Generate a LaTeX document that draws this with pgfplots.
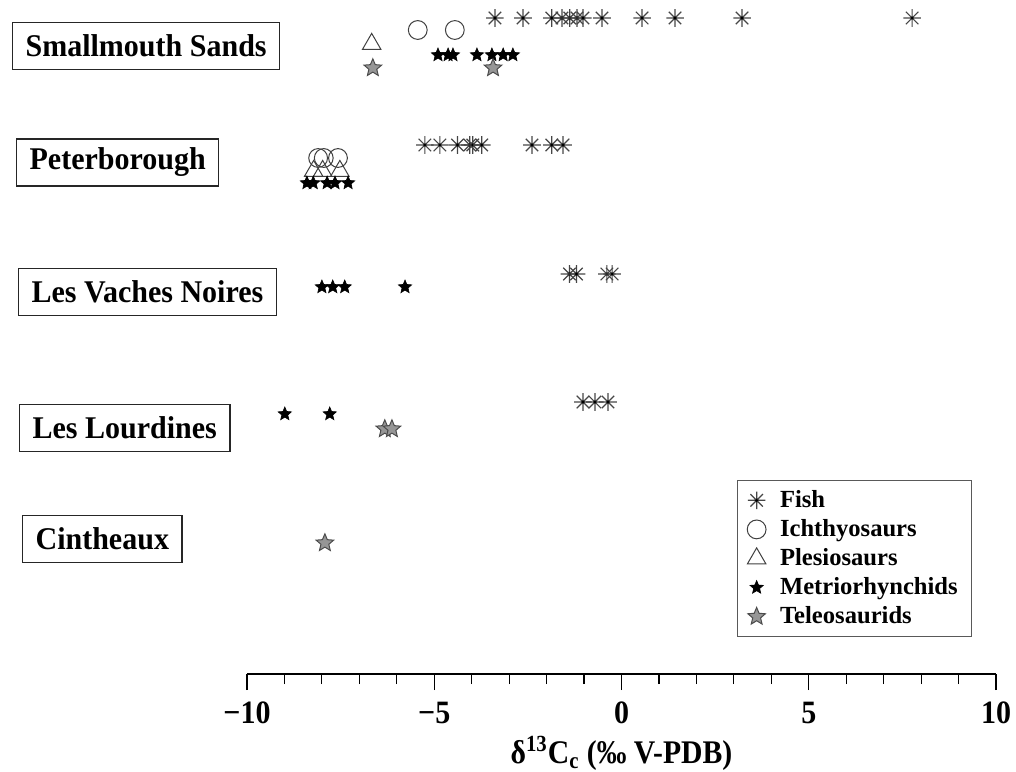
\documentclass[border=0pt]{standalone}
\usepackage{fontspec}
\setmainfont{Liberation Serif}
\newfontfamily\condA[FakeStretch=0.92]{Liberation Serif}
\newfontfamily\condB[FakeStretch=0.95]{Liberation Serif}
\newfontfamily\condC[FakeStretch=0.90]{Liberation Serif}
\usepackage{pgfplots}
\pgfplotsset{compat=1.18}
\pgfdeclareplotmark{ast8}{%
  \pgfpathmoveto{\pgfqpoint{-\pgfplotmarksize}{0pt}}%
  \pgfpathlineto{\pgfqpoint{\pgfplotmarksize}{0pt}}%
  \pgfpathmoveto{\pgfqpoint{0pt}{-\pgfplotmarksize}}%
  \pgfpathlineto{\pgfqpoint{0pt}{\pgfplotmarksize}}%
  \pgfpathmoveto{\pgfqpoint{-0.7071\pgfplotmarksize}{-0.7071\pgfplotmarksize}}%
  \pgfpathlineto{\pgfqpoint{0.7071\pgfplotmarksize}{0.7071\pgfplotmarksize}}%
  \pgfpathmoveto{\pgfqpoint{-0.7071\pgfplotmarksize}{0.7071\pgfplotmarksize}}%
  \pgfpathlineto{\pgfqpoint{0.7071\pgfplotmarksize}{-0.7071\pgfplotmarksize}}%
  \pgfusepathqstroke
  \pgfsetfillcolor{black}%
  \pgfpathcircle{\pgfpointorigin}{0.8pt}%
  \pgfusepathqfill
}
\pgfdeclareplotmark{star5}{%
  \pgfpathmoveto{\pgfpointpolar{90}{\pgfplotmarksize}}%
  \pgfpathlineto{\pgfpointpolar{126}{0.45\pgfplotmarksize}}%
  \pgfpathlineto{\pgfpointpolar{162}{\pgfplotmarksize}}%
  \pgfpathlineto{\pgfpointpolar{198}{0.45\pgfplotmarksize}}%
  \pgfpathlineto{\pgfpointpolar{234}{\pgfplotmarksize}}%
  \pgfpathlineto{\pgfpointpolar{270}{0.45\pgfplotmarksize}}%
  \pgfpathlineto{\pgfpointpolar{306}{\pgfplotmarksize}}%
  \pgfpathlineto{\pgfpointpolar{342}{0.45\pgfplotmarksize}}%
  \pgfpathlineto{\pgfpointpolar{18}{\pgfplotmarksize}}%
  \pgfpathlineto{\pgfpointpolar{54}{0.45\pgfplotmarksize}}%
  \pgfpathclose
  \pgfusepathqfillstroke
}
\definecolor{teleo}{RGB}{150,150,150}
\definecolor{fishgray}{RGB}{70,70,70}
\begin{document}
\begin{tikzpicture}
\begin{axis}[
  x=18.725pt, y=0.5pt,
  xmin=-10, xmax=10, ymin=-674, ymax=0,
  clip=false,
  axis x line=bottom, axis y line=none,
  x axis line style={-, line width=0.6pt},
  xtick={-10,-5,0,5,10},
  xticklabels={−10,−5,0,5,10},
  minor xtick={-9,-8,-7,-6,-4,-3,-2,-1,1,2,3,4,6,7,8,9},
  tick align=outside,
  major tick length=8pt, minor tick length=5pt,
  every tick/.style={black, line width=0.6pt},
  xticklabel style={font=\condA\bfseries\fontsize{16.3}{19}\selectfont, yshift=-2.5pt},
  xlabel={\textbf{δ\textsuperscript{13}C\textsubscript{c} (‰ V-PDB)}},
  xlabel style={font=\condC\bfseries\fontsize{16.5}{19}\selectfont, yshift=1pt},
  legend style={at={(0.654,0.288)}, anchor=north west, draw=gray!70!black,
    font=\bfseries\fontsize{12.3}{15}\selectfont, inner xsep=5pt, inner ysep=3pt, row sep=0.5pt,
    /tikz/every odd column/.append style={column sep=5pt}},
  legend cell align=left,
]
\addplot[only marks, mark=ast8, mark size=4.4pt, mark options={draw=fishgray, line width=0.6pt}] coordinates {
(-3.38,-18) (-2.63,-18) (-1.86,-18) (-1.59,-18) (-1.38,-18) (-1.19,-18) (-1.03,-18) (-0.52,-18) (0.55,-18) (1.43,-18) (3.22,-18) (7.76,-18)
(-5.25,-145) (-4.85,-145) (-4.38,-145) (-4.05,-145) (-3.97,-145) (-3.73,-145) (-2.39,-145) (-1.86,-145) (-1.56,-145)
(-1.39,-274) (-1.20,-274) (-0.39,-274) (-0.25,-274)
(-1.03,-402) (-0.71,-402) (-0.36,-402)
};
\addlegendentry{Fish}
\addplot[only marks, mark=o, mark size=4.7pt, mark options={draw=black!75, line width=0.5pt, fill=none}] coordinates {
(-5.44,-30) (-4.45,-30)
(-8.10,-158) (-7.95,-158) (-7.57,-158)
};
\addlegendentry{Ichthyosaurs}
\addplot[only marks, mark=triangle, mark size=5.3pt, mark options={draw=black!75, line width=0.5pt, fill=none}] coordinates {
(-6.67,-44)
(-8.22,-171) (-7.98,-171) (-7.52,-171)
};
\addlegendentry{Plesiosaurs}
\addplot[only marks, mark=star5, mark size=3.5pt, mark options={draw=black, fill=black, line width=0.3pt}] coordinates {
(-4.90,-55) (-4.63,-55) (-4.50,-55) (-3.86,-55) (-3.46,-55) (-3.16,-55) (-2.90,-55)
(-8.40,-183) (-8.23,-183) (-7.86,-183) (-7.65,-183) (-7.30,-183)
(-8.00,-287) (-7.71,-287) (-7.39,-287) (-5.78,-287)
(-8.99,-414) (-7.79,-414)
};
\addlegendentry{Metriorhynchids}
\addplot[only marks, mark=star5, mark size=4.6pt, mark options={draw=black!70, fill=teleo, line width=0.5pt}] coordinates {
(-6.64,-68) (-3.43,-68)
(-6.32,-429) (-6.13,-429)
(-7.92,-543)
};
\addlegendentry{Teleosaurids}
\tikzset{site/.style={draw=black!85, line width=0.6pt, anchor=west, font=\condB\bfseries\fontsize{15.8}{18}\selectfont, inner xsep=6.5pt, minimum height=23.5pt}}
\node[site] at (axis cs:-16.275,-46) {Smallmouth Sands};
\node[site] at (axis cs:-16.168,-162.5) {Peterborough};
\node[site] at (axis cs:-16.115,-292) {Les Vaches Noires};
\node[site] at (axis cs:-16.088,-428) {Les Lourdines};
\node[site] at (axis cs:-16.008,-539) {Cintheaux};
\coordinate (BL) at (axis cs:-16.595,-771);
\coordinate (TR) at (axis cs:10.534,0);
\end{axis}
\pgfresetboundingbox
\path[use as bounding box] (BL) rectangle (TR);
\end{tikzpicture}
\end{document}
